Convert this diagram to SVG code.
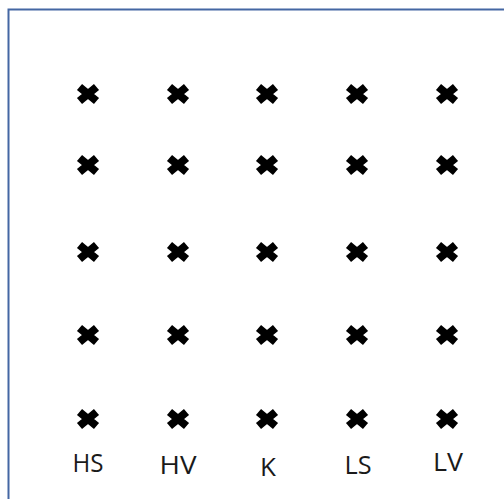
<svg xmlns="http://www.w3.org/2000/svg" xmlns:xlink="http://www.w3.org/1999/xlink" width="504" height="499" viewBox="0 0 504 499">
<style>
.lbl{font-family:"Open Sans","Liberation Sans",sans-serif;font-size:26px;fill:#1a1a1a;text-anchor:middle}
.x{stroke:#000;stroke-width:8;stroke-linecap:butt;fill:none}
</style>
<defs>
<g id="cross"><path class="x" d="M-8.5,-7 L8.5,7 M-8.5,7 L8.5,-7"/></g>
</defs>
<rect x="0" y="0" width="504" height="499" fill="#fff"/>
<rect x="8.5" y="9.5" width="620" height="620" fill="none" stroke="#4467a3" stroke-width="2"/>
<g id="connectors"></g>
<g id="col-HS">
<use xlink:href="#cross" x="88" y="94"/>
<use xlink:href="#cross" x="88" y="165"/>
<use xlink:href="#cross" x="88" y="252"/>
<use xlink:href="#cross" x="88" y="335"/>
<use xlink:href="#cross" x="88" y="419"/>
<text class="lbl" x="88" y="472" textLength="31" lengthAdjust="spacingAndGlyphs">HS</text>
</g>
<g id="col-HV">
<use xlink:href="#cross" x="178" y="94"/>
<use xlink:href="#cross" x="178" y="165"/>
<use xlink:href="#cross" x="178" y="252"/>
<use xlink:href="#cross" x="178" y="335"/>
<use xlink:href="#cross" x="178" y="419"/>
<text class="lbl" x="178" y="474" textLength="37" lengthAdjust="spacingAndGlyphs">HV</text>
</g>
<g id="col-K">
<use xlink:href="#cross" x="267" y="94"/>
<use xlink:href="#cross" x="267" y="165"/>
<use xlink:href="#cross" x="267" y="252"/>
<use xlink:href="#cross" x="267" y="335"/>
<use xlink:href="#cross" x="267" y="419"/>
<text class="lbl" x="268" y="476">K</text>
</g>
<g id="col-LS">
<use xlink:href="#cross" x="357" y="94"/>
<use xlink:href="#cross" x="357" y="165"/>
<use xlink:href="#cross" x="357" y="252"/>
<use xlink:href="#cross" x="357" y="335"/>
<use xlink:href="#cross" x="357" y="419"/>
<text class="lbl" x="358" y="474" textLength="27" lengthAdjust="spacingAndGlyphs">LS</text>
</g>
<g id="col-LV">
<use xlink:href="#cross" x="447" y="94"/>
<use xlink:href="#cross" x="447" y="165"/>
<use xlink:href="#cross" x="447" y="252"/>
<use xlink:href="#cross" x="447" y="335"/>
<use xlink:href="#cross" x="447" y="419"/>
<text class="lbl" x="448" y="471" textLength="30" lengthAdjust="spacingAndGlyphs">LV</text>
</g>
</svg>
